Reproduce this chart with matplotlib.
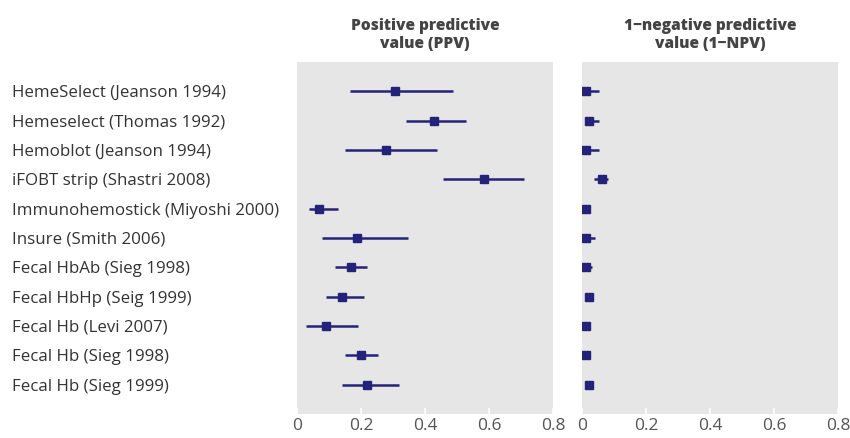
import matplotlib
matplotlib.use("Agg")
import matplotlib.pyplot as plt
import numpy as np

studies = ["HemeSelect (Jeanson 1994)", "Hemeselect (Thomas 1992)", "Hemoblot (Jeanson 1994)",
           "iFOBT strip (Shastri 2008)", "Immunohemostick (Miyoshi 2000)", "Insure (Smith 2006)",
           "Fecal HbAb (Sieg 1998)", "Fecal HbHp (Seig 1999)", "Fecal Hb (Levi 2007)",
           "Fecal Hb (Sieg 1998)", "Fecal Hb (Sieg 1999)"]

ppv =      [0.306, 0.428, 0.278, 0.584, 0.069, 0.188, 0.169, 0.141, 0.091, 0.200, 0.219]
ppv_low =  [0.166, 0.340, 0.150, 0.457, 0.038, 0.077, 0.119, 0.090, 0.029, 0.149, 0.140]
ppv_high = [0.487, 0.527, 0.437, 0.708, 0.129, 0.347, 0.218, 0.208, 0.190, 0.254, 0.320]

npv1 =      [0.013, 0.022, 0.013, 0.062, 0.013, 0.013, 0.013, 0.022, 0.013, 0.013, 0.022]
npv1_low =  [0.004, 0.009, 0.003, 0.037, 0.005, 0.004, 0.005, 0.009, 0.006, 0.006, 0.009]
npv1_high = [0.053, 0.053, 0.052, 0.081, 0.020, 0.040, 0.031, 0.028, 0.020, 0.020, 0.033]

titles = ["Positive predictive\nvalue (PPV)", "1\u2212negative predictive\nvalue (1\u2212NPV)"]
xticks = [0, 0.2, 0.4, 0.6, 0.8]
xticklabels = ["0", "0.2", "0.4", "0.6", "0.8"]

plt.rcParams['font.family'] = ['Open Sans', 'DejaVu Sans']

W, H = 850, 438
fig = plt.figure(figsize=(W / 100, H / 100), dpi=100)
navy = "#23237a"
bg = "#e6e6e6"

panels = [(297, 553), (582, 838)]
top, bottom = 62, 414
series = [(ppv, ppv_low, ppv_high), (npv1, npv1_low, npv1_high)]

y = np.arange(1, len(studies) + 1)
for i, ((x0, x1), (est, lo, hi)) in enumerate(zip(panels, series)):
    ax = fig.add_axes([x0 / W, 1 - bottom / H, (x1 - x0) / W, (bottom - top) / H])
    ax.set_facecolor(bg)
    for s in ax.spines.values():
        s.set_visible(False)
    ax.set_xlim(0, 0.8)
    ax.set_ylim(12, 0)
    est = np.array(est); lo = np.array(lo); hi = np.array(hi)
    ax.hlines(y, lo, hi, color=navy, lw=1.8, zorder=2)
    ax.plot(est, y, ls="none", marker="s", ms=5.5, color=navy, zorder=3)
    ax.set_xticks(xticks)
    ax.set_xticklabels(xticklabels, fontsize=12.5, color="#555555")
    ax.tick_params(axis="x", direction="in", length=4, width=1.2, color="white", pad=3)
    ax.set_title(titles[i], fontsize=11.2, fontweight="heavy", color="#444444",
                 pad=10, linespacing=1.2)
    if i == 0:
        ax.set_yticks(y)
        ax.set_yticklabels(studies, fontsize=12.2, color="#333333", ha="left")
        ax.tick_params(axis="y", length=0, pad=(297 - 12) * 0.72)
    else:
        ax.set_yticks([])

fig.savefig("out.png", dpi=100)
